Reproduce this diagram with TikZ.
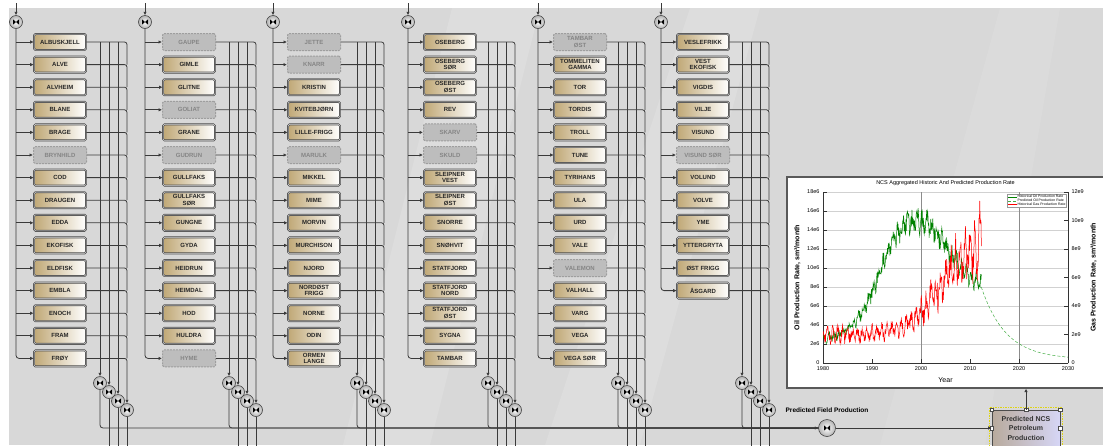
\documentclass[tikz,border=0pt]{standalone}
\usepackage{fontspec}
\setmainfont{Liberation Sans}
\usepackage{tikz}
\usepackage{pgfplots}
\pgfplotsset{compat=1.18}
\usetikzlibrary{arrows.meta,positioning,calc}

\definecolor{boxtan}{RGB}{192,168,118}
\definecolor{canvasgrey}{RGB}{216,216,216}
\definecolor{pipegrey}{RGB}{58,58,58}
\definecolor{ncstan}{RGB}{184,170,156}
\definecolor{ncsblue}{RGB}{214,214,246}
\definecolor{oilgreen}{RGB}{0,130,0}
\definecolor{predgreen}{RGB}{70,175,70}
\definecolor{selyellow}{RGB}{222,212,20}

% one column of fields: id, feed x, box centre x, first bus x, rows, fields
\newcommand{\fieldcolumn}[6]{%
  \node[valve] (top#1) at (#2,22) {};
  \coordinate (feed#1) at (#2,3);
  \draw[flow] (feed#1) -- (top#1);
  \foreach \lbl/\kind [count=\r] in {#6}
    \node[\kind] (c#1r\r) at (#3,{42+22.6*(\r-1)}) {\lbl};
  \foreach \k in {0,...,3} {
    \coordinate (b#1x\k) at ({#4+9*\k},42);
    \node[valve] (bv#1x\k) at ({#4+9*\k},{383+9*\k}) {};
  }
  \draw[flow, rounded corners=3pt] (top#1.south) |- (c#1r#5.west);
  \foreach \r in {1,...,#5} {
    \ifnum\r<#5\relax
      \pgfmathtruncatemacro{\nxt}{\r+1}
      \draw[flow] (top#1 |- c#1r\r.west) -- (c#1r\r.west);
      \draw[pipe, rounded corners=2.5pt] (c#1r\r.east) -| (b#1x3 |- c#1r\nxt.east);
    \else
      \draw[flow, rounded corners=2.5pt] (c#1r\r.east) -| (bv#1x3.north);
    \fi
  }
  \foreach \k in {0,1,2}
    \draw[flow] (b#1x\k) -- (bv#1x\k.north);
  \foreach \k in {1,2,3}
    \draw[pipe] (bv#1x\k.south) -- (bv#1x\k.south |- floor);
  \draw[pipe, rounded corners=3pt] (bv#1x0.south) |- (pfp.west);
}

\begin{document}
\begin{tikzpicture}[x=1pt, y=-1pt,
    font=\fontsize{6.5}{7.5}\selectfont\bfseries,
    pipe/.style={draw=pipegrey, line width=0.8pt},
    flow/.style={pipe, -{Latex[length=3.5pt,width=3.5pt]}},
    live/.style={rectangle, draw=black!70, line width=0.7pt, double=black!15, double distance=0.5pt,
      rounded corners=1.5pt, left color=boxtan, right color=white, minimum width=52pt, minimum height=16pt,
      inner sep=0pt, align=center, text=black!85, font=\fontsize{6}{6.4}\selectfont\bfseries},
    shut/.style={rectangle, draw=black!38, line width=1pt, dash pattern=on 2pt off 1pt,
      rounded corners=1.5pt, fill=black!26, minimum width=53pt, minimum height=17pt,
      inner sep=0pt, align=center, text=black!48, font=\fontsize{6}{6.4}\selectfont\bfseries},
    valve/.style={circle, draw=black!80, line width=0.5pt, inner color=white, outer color=black!30,
      minimum size=13pt, inner sep=0pt,
      path picture={
        \fill[black] ([xshift=-3pt,yshift=-2.6pt]path picture bounding box.center)
          -- (path picture bounding box.center) -- ([xshift=-3pt,yshift=2.6pt]path picture bounding box.center) -- cycle
          ([xshift=3pt,yshift=-2.6pt]path picture bounding box.center)
          -- (path picture bounding box.center) -- ([xshift=3pt,yshift=2.6pt]path picture bounding box.center) -- cycle;
      }},
    bigvalve/.style={valve, minimum size=17pt},
    ncsbox/.style={rectangle, draw=black!70, line width=0.8pt, left color=ncstan, right color=ncsblue,
      minimum width=68pt, minimum height=36pt, align=center, inner sep=1pt,
      font=\fontsize{7}{9.5}\selectfont\bfseries, text=black!80},
    handle/.style={rectangle, draw=black!70, fill=white, minimum size=3.5pt, inner sep=0pt, line width=0.4pt},
    chartframe/.style={rectangle, draw=black!65, line width=1.3pt, fill=white,
      minimum width=321pt, minimum height=211pt, inner sep=0pt}
]
\useasboundingbox (0,0) rectangle (1103,445);
\fill[white] (0,0) rectangle (1103,445);
\fill[canvasgrey] (9,8) rectangle (1103,445);
\fill[white, opacity=0.13] (343,445) -- (452,8) -- (540,8) -- (430,445) -- cycle;
\fill[white, opacity=0.13] (545,445) -- (690,8) -- (760,8) -- (640,445) -- cycle;
\fill[white, opacity=0.1] (880,445) -- (1000,8) -- (1060,8) -- (985,445) -- cycle;

\coordinate (floor) at (0,450);
\node[bigvalve] (pfp) at (827,428) {};
\node[above=3pt of pfp] (pfplabel) {Predicted Field Production};
\node[ncsbox] (ncs) at (1026,428) {Predicted NCS\\Petroleum\\Production};
\draw[selyellow, line width=1.3pt, dash pattern=on 1.5pt off 1pt]
  ([xshift=-2pt,yshift=2pt]ncs.north west) rectangle ([xshift=2pt,yshift=-2pt]ncs.south east);
\foreach \a [count=\i] in {north west,north,north east,west,east}
  \node[handle] (h\i) at (ncs.\a) {};

\fieldcolumn{1}{16}{60}{100}{15}{ALBUSKJELL/live, ALVE/live, ALVHEIM/live, BLANE/live, BRAGE/live,
  BRYNHILD/shut, COD/live, DRAUGEN/live, EDDA/live, EKOFISK/live, ELDFISK/live, EMBLA/live,
  ENOCH/live, FRAM/live, FRØY/live}
\fieldcolumn{2}{145}{189}{229}{15}{GAUPE/shut, GIMLE/live, GLITNE/live, GOLIAT/shut, GRANE/live,
  GUDRUN/shut, GULLFAKS/live, {GULLFAKS\\SØR}/live, GUNGNE/live, GYDA/live, HEIDRUN/live,
  HEIMDAL/live, HOD/live, HULDRA/live, HYME/shut}
\fieldcolumn{3}{273}{314}{357}{15}{JETTE/shut, KNARR/shut, KRISTIN/live, KVITEBJØRN/live,
  LILLE-FRIGG/live, MARULK/shut, MIKKEL/live, MIME/live, MORVIN/live, MURCHISON/live, NJORD/live,
  {NORDØST\\FRIGG}/live, NORNE/live, ODIN/live, {ORMEN\\LANGE}/live}
\fieldcolumn{4}{408}{450}{488}{15}{OSEBERG/live, {OSEBERG\\SØR}/live, {OSEBERG\\ØST}/live, REV/live,
  SKARV/shut, SKULD/shut, {SLEIPNER\\VEST}/live, {SLEIPNER\\ØST}/live, SNORRE/live, SNØHVIT/live,
  STATFJORD/live, {STATFJORD\\NORD}/live, {STATFJORD\\ØST}/live, SYGNA/live, TAMBAR/live}
\fieldcolumn{5}{538}{580}{618}{15}{{TAMBAR\\ØST}/shut, {TOMMELITEN\\GAMMA}/live, TOR/live, TORDIS/live,
  TROLL/live, TUNE/live, TYRIHANS/live, ULA/live, URD/live, VALE/live, VALEMON/shut, VALHALL/live,
  VARG/live, VEGA/live, {VEGA SØR}/live}
\fieldcolumn{6}{661}{703}{742}{12}{VESLEFRIKK/live, {VEST\\EKOFISK}/live, VIGDIS/live, VILJE/live,
  VISUND/live, {VISUND SØR}/shut, VOLUND/live, VOLVE/live, YME/live, YTTERGRYTA/live,
  {ØST FRIGG}/live, ÅSGARD/live}

\draw[flow] (bv6x0.south |- pfp.west) -- (pfp.west);
\draw[flow] (pfp.east) -- (ncs.west);

% aggregated production chart
\node[chartframe] (chart) at (947.5,282.5) {};
\draw[flow] (ncs.north) -- (ncs.north |- chart.south);
\coordinate (plotsw) at (823,363);
\pgfmathsetseed{11}
\begin{axis}[at={(plotsw)}, anchor=south west, scale only axis,
    width=245pt, height=171pt, xmin=1980, xmax=2030, ymin=0, ymax=18,
    axis y line*=left, axis x line*=bottom,
    axis line style={black!80, line width=0.5pt}, tick style={black!80},
    xtick={1980,1990,...,2030}, xticklabels={1980,1990,2000,2010,2020,2030},
    ytick={0,2,...,18}, yticklabels={0,2e6,4e6,6e6,8e6,10e6,12e6,14e6,16e6,18e6},
    tick label style={font=\fontsize{5.5}{6}\selectfont\mdseries},
    ymajorgrids, major grid style={black!18, line width=0.3pt},
    extra x ticks={2000,2020}, extra x tick labels={},
    extra x tick style={grid=major, major grid style={black!45, line width=0.4pt}},
    xlabel={Year}, ylabel={Oil Production Rate, sm³/month},
    xlabel style={font=\fontsize{7}{8}\selectfont\mdseries},
    ylabel style={font=\fontsize{7}{8}\selectfont\bfseries},
    title={NCS Aggregated Historic And Predicted Production Rate},
    title style={font=\fontsize{5.5}{6}\selectfont\mdseries, yshift=-3pt},
    legend style={at={(0.995,0.99)}, anchor=north east, draw=black!40, inner sep=0.5pt,
      font=\fontsize{3.5}{3.7}\selectfont\mdseries, row sep=-1.5pt, nodes={inner sep=0.6pt}},
    legend cell align=left,
    legend image code/.code={\draw[#1] (0pt,0pt) -- (9pt,0pt);},
    declare function={
      oilbase(\t)=2.3+14.5/(1+exp(-(\t-11.5)/2.7))-9.4/(1+exp(-(\t-25.5)/3));
      oilrate(\t)=oilbase(\t)+(0.35+0.05*oilbase(\t))*(0.6*sin(360*\t)+0.9*rand);
      gasbase(\t)=3.0+10.5/(1+exp(-(\t-24)/3.2));
      gasamp(\t)=0.8+2.6/(1+exp(-(\t-24)/3));
      gasrate(\t)=gasbase(\t)+gasamp(\t)*(0.7*cos(360*\t)+0.7*rand);
    }]
\addplot[oilgreen, line width=0.5pt, domain=1980:2012.3, samples=388] {oilrate(x-1980)};
\addlegendentry{Historical Oil Production Rate}
\addplot[predgreen, densely dashed, line width=0.5pt, domain=2012.3:2030, samples=60] {0.4+7.6*exp(-0.2*(x-2012.3))};
\addlegendentry{Predicted Oil Production Rate}
\addplot[red, line width=0.5pt, domain=1980:2012.3, samples=388] {gasrate(x-1980)};
\addlegendentry{Historical Gas Production Rate}
\end{axis}
\begin{axis}[at={(plotsw)}, anchor=south west, scale only axis,
    width=245pt, height=171pt, xmin=1980, xmax=2030, ymin=0, ymax=12,
    axis x line=none, axis y line*=right,
    axis line style={black!80, line width=0.5pt}, tick style={black!80},
    ytick={0,2,...,12}, yticklabels={0,2e9,4e9,6e9,8e9,10e9,12e9},
    tick label style={font=\fontsize{5.5}{6}\selectfont\mdseries},
    ylabel={Gas Production Rate, sm³/month},
    ylabel style={font=\fontsize{7}{8}\selectfont\bfseries}]
\end{axis}
\end{tikzpicture}
\end{document}
